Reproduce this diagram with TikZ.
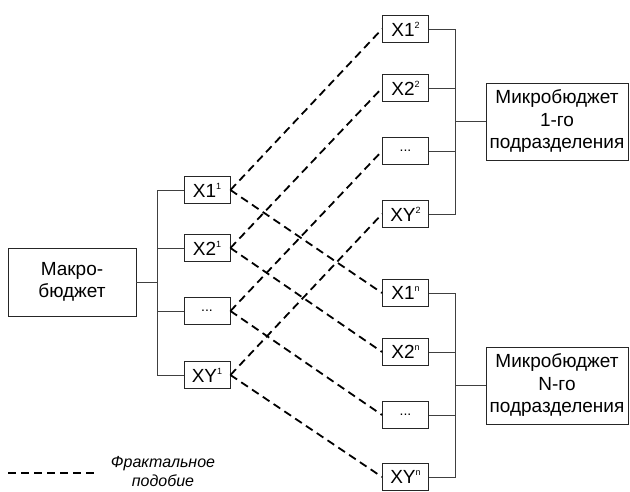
\documentclass[tikz,border=0pt]{standalone}
\usepackage{fontspec}
\setmainfont{Liberation Sans}
\usetikzlibrary{
    positioning,
    calc
    }

\newcommand{\lvl}[1]{\raisebox{0.8ex}{\fontsize{9}{9}\selectfont #1}}
\newcommand{\etcdots}{{\fontsize{14}{14}\selectfont.{}.{}.}}

\begin{document}
\begin{tikzpicture}[x=1pt, y=-1pt]
% pixel grid of the reference, origin top left
\tikzset{budget/.style =
        {
            rectangle,
            draw=black!85,
            line width=0.9pt,
            align=center,
            inner sep=0pt,
            font=\fontsize{19}{22.5}\selectfont
        }
}

\tikzset{item/.style =
        {
            budget,
            minimum width=46,
            minimum height=27
        }
}

\tikzset{tree/.style =
        {
            line width=0.9pt,
            draw=black!75
        }
}

\tikzset{fractal/.style =
        {
            line width=1.8pt,
            dash pattern=on 8pt off 5pt
        }
}

\tikzset{legend text/.style =
        {
            align=center,
            inner sep=0pt,
            font=\fontsize{16}{19}\selectfont\itshape
        }
}
		\useasboundingbox (0,0) rectangle (630,492);

		\node[budget, minimum width=128, minimum height=68] (macro) at (72,282) {Макро-\\бюджет};

		\foreach \i / \y / \txt in
			{1/190/X1\lvl{1},
				2/248/X2\lvl{1},
				3/311/\etcdots,
				4/375/XY\lvl{1}}
		\node[item] (a\i) at (207,\y) {\txt};

		\foreach \i / \y / \txt in
			{1/29/X1\lvl{2},
				2/88/X2\lvl{2},
				3/151/\etcdots,
				4/214/XY\lvl{2}}
		\node[item] (b\i) at (405.5,\y) {\txt};

		\foreach \i / \y / \txt in
			{1/293/X1\lvl{n},
				2/352/X2\lvl{n},
				3/415/\etcdots,
				4/477/XY\lvl{n}}
		\node[item] (c\i) at (405.5,\y) {\txt};

		\node[budget, minimum width=142, minimum height=77] (micro1) at (557,121.5) {Микробюджет\\1-го\\подразделения};
		\node[budget, minimum width=142, minimum height=77] (micron) at (557,385.5) {Микробюджет\\N-го\\подразделения};

		% forks of the trees
		\coordinate (forka) at (157,282);
		\coordinate (forkb) at (455,121.5);
		\coordinate (forkc) at (455,385.5);

		\draw[tree] (macro.east) -- (forka);
		\draw[tree] (micro1.west) -- (forkb);
		\draw[tree] (micron.west) -- (forkc);
		\foreach \i in {1,...,4}
		{
			\draw[tree] (forka) |- (a\i.west);
			\draw[tree] (forkb) |- (b\i.east);
			\draw[tree] (forkc) |- (c\i.east);
			\draw[fractal] (a\i.east) -- (b\i.west);
			\draw[fractal] (a\i.east) -- (c\i.west);
		}

		% legend
		\coordinate (lega) at (8,473);
		\coordinate (legb) at (98,473);
		\draw[fractal] (lega) -- (legb);
		\node[legend text] (legtxt) at (163,472) {Фрактальное\\подобие};

	\end{tikzpicture}
\end{document}
